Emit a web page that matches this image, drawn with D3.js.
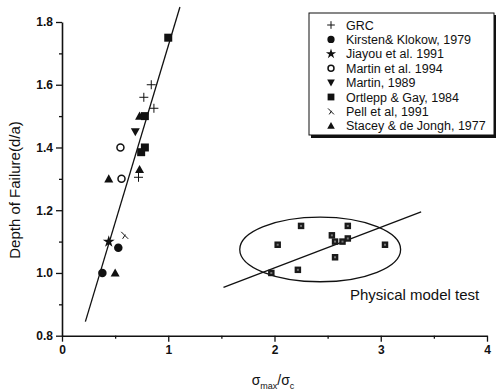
<!DOCTYPE html>
<html><head><meta charset="utf-8">
<script src="https://cdn.jsdelivr.net/npm/d3@7"></script>
<style>
body{margin:0;background:#fff}
text{font-family:Arial,"Liberation Sans",Helvetica,sans-serif;fill:#111}
</style>
</head><body>
<svg id="c" width="497" height="390"></svg>
<script>
// ---- data ----
const xTicks = [0, 1, 2, 3, 4];
const xMinor = [0.5, 1.5, 2.5, 3.5];
const yTicks = [0.8, 1.0, 1.2, 1.4, 1.6, 1.8];
const yMinor = [0.9, 1.1, 1.3, 1.5, 1.7];

const grc      = [[0.84,1.60],[0.77,1.56],[0.865,1.525],[0.72,1.305]];
const kirsten  = [[0.38,1.00],[0.53,1.08]];
const jiayou   = [[0.44,1.10]];
const martin94 = [[0.55,1.40],[0.56,1.30]];
const martin89 = [[0.69,1.45]];
const ortlepp  = [[1.00,1.75],[0.78,1.50],[0.78,1.40],[0.745,1.385]];
const pell     = [[0.59,1.12]];
const stacey   = [[0.73,1.50],[0.44,1.30],[0.73,1.33],[0.50,1.00]];
const model    = [[2.03,1.09],[2.25,1.15],[2.54,1.12],[2.69,1.15],[2.69,1.11],
                  [2.57,1.10],[2.64,1.10],[3.04,1.09],[2.57,1.05],[2.22,1.01],[1.97,1.00]];
const fit1 = [[0.22,0.845],[1.11,1.848]];
const fit2 = [[1.52,0.954],[3.38,1.195]];
const ellipseCenter = [2.43, 1.075];
const ellipseRadii  = [0.757, 0.103];

const legendLabels = ["GRC","Kirsten& Klokow, 1979","Jiayou et al. 1991","Martin et al. 1994",
  "Martin, 1989","Ortlepp & Gay, 1984","Pell et al, 1991","Stacey & de Jongh, 1977"];
const legendSeries = [grc,kirsten,jiayou,martin94,martin89,ortlepp,pell,stacey];
const legendKinds = ["plus","circle","star","ocircle","dtri","square","times","tri"];

// ---- drawing ----
const svg = d3.select("#c");
const x = d3.scaleLinear().domain([0,4]).range([62,487]);
const y = d3.scaleLinear().domain([0.8,1.8]).range([335.7,22]);

function symPath(kind, s){
  const h = s/2;
  switch(kind){
    case "plus": return `M${-h},0H${h}M0,${-h}V${h}`;
    case "times": return `M${-h},${-h}L${h},${h}M${-h*0.6},${h}L${h*0.2},${-h*0.2}`;
    case "square": return `M${-h},${-h}H${h}V${h}H${-h}Z`;
    case "tri": return `M0,${-h}L${h},${h*0.8}H${-h}Z`;
    case "dtri": return `M0,${h}L${h},${-h*0.8}H${-h}Z`;
    case "star": return d3.symbol(d3.symbolStar, s*s*0.55)();
    default: return d3.symbol(d3.symbolCircle, Math.PI*h*h)();
  }
}
function styleSym(sel, kind){
  if(kind==="plus"||kind==="times") sel.attr("fill","none").attr("stroke","#111").attr("stroke-width",1);
  else if(kind==="ocircle") sel.attr("fill","#fff").attr("stroke","#111").attr("stroke-width",1.5);
  else sel.attr("fill","#111").attr("stroke","none");
}
const sizes = {plus:9, times:7, square:8, tri:9, dtri:9, star:9, circle:8.5, ocircle:7};

// axes
const gx = svg.append("g").attr("transform","translate(0,335.7)")
  .call(d3.axisBottom(x).tickValues(xTicks).tickFormat(d3.format("d")).tickSize(6).tickSizeOuter(0).tickPadding(4));
svg.append("g").attr("transform","translate(0,335.7)")
  .call(d3.axisBottom(x).tickValues(xMinor).tickFormat("").tickSize(3).tickSizeOuter(0))
  .select(".domain").remove();
const gy = svg.append("g").attr("transform","translate(62,0)")
  .call(d3.axisLeft(y).tickValues(yTicks).tickFormat(d3.format(".1f")).tickSize(6).tickSizeOuter(0).tickPadding(3));
svg.append("g").attr("transform","translate(62,0)")
  .call(d3.axisLeft(y).tickValues(yMinor).tickFormat("").tickSize(3).tickSizeOuter(0))
  .select(".domain").remove();
svg.selectAll(".domain").attr("stroke","#111").attr("stroke-width",1.6);
svg.selectAll(".tick line").attr("stroke","#111").attr("stroke-width",1.3);
svg.selectAll(".tick text").attr("font-size",12).attr("font-weight","bold").attr("fill","#111")
  .attr("font-family","Arial, 'Liberation Sans', sans-serif");

// axis titles
svg.append("text").attr("transform","translate(20,190) rotate(-90)")
  .attr("text-anchor","middle").attr("font-size",15).text("Depth of Failure(d/a)");
const xt = svg.append("text").attr("x",273).attr("y",385).attr("text-anchor","middle").attr("font-size",14);
xt.append("tspan").text("σ");
xt.append("tspan").attr("font-size",9).attr("dy",4).text("max");
xt.append("tspan").attr("dy",-4).text("/σ");
xt.append("tspan").attr("font-size",9).attr("dy",4).text("c");

// fit lines and ellipse
const line = d3.line().x(d=>x(d[0])).y(d=>y(d[1]));
svg.append("path").attr("d",line(fit1)).attr("stroke","#111").attr("stroke-width",1.3).attr("fill","none");
svg.append("path").attr("d",line(fit2)).attr("stroke","#111").attr("stroke-width",1.3).attr("fill","none");
svg.append("ellipse").attr("cx",x(ellipseCenter[0])).attr("cy",y(ellipseCenter[1]))
  .attr("rx",x(ellipseCenter[0]+ellipseRadii[0])-x(ellipseCenter[0]))
  .attr("ry",y(ellipseCenter[1])-y(ellipseCenter[1]+ellipseRadii[1]))
  .attr("fill","none").attr("stroke","#111").attr("stroke-width",1.3);

// points
legendSeries.forEach((ser,i)=>{
  const k = legendKinds[i];
  const sel = svg.append("g").selectAll("path").data(ser).join("path")
    .attr("transform",d=>`translate(${x(d[0])},${y(d[1])})`)
    .attr("d",symPath(k,sizes[k]));
  styleSym(sel,k);
});
const ms = svg.append("g").selectAll("g").data(model).join("g")
  .attr("transform",d=>`translate(${x(d[0])},${y(d[1])})`);
ms.append("path").attr("d",symPath("square",6.5)).attr("fill","#1a1a1a");
ms.append("rect").attr("x",-1).attr("y",-1).attr("width",2).attr("height",2).attr("fill","#777");

svg.append("text").attr("x",350).attr("y",300).attr("font-size",15).text("Physical model test");

// legend
const lg = svg.append("g");
lg.append("rect").attr("x",311).attr("y",15).attr("width",185).attr("height",123).attr("fill","#111");
lg.append("rect").attr("x",309).attr("y",13).attr("width",185).attr("height",122)
  .attr("fill","#fff").attr("stroke","#111").attr("stroke-width",1);
legendLabels.forEach((lab,i)=>{
  const yy = 25 + i*14.4;
  const k = legendKinds[i];
  const p = lg.append("path").attr("transform",`translate(331,${yy})`).attr("d",symPath(k,sizes[k]*0.85));
  styleSym(p,k);
  lg.append("text").attr("x",346).attr("y",yy+4.5).attr("font-size",12.5).text(lab);
});
</script>
</body></html>
